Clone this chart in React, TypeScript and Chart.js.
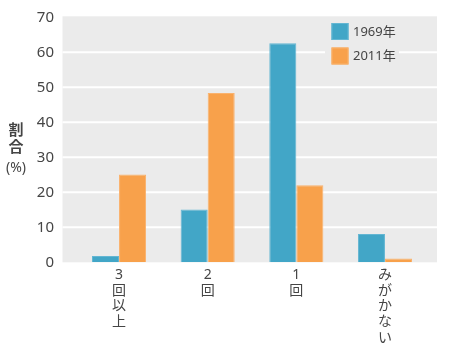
import React, { useEffect, useRef } from "react";
import { Chart, registerables } from "chart.js";

Chart.register(...registerables);

const categories: string[][] = [["3", "回", "以", "上"], ["2", "回"], ["1", "回"], ["み", "が", "か", "な", "い"]];
const series1969: number[] = [1.8, 15.1, 62.6, 8.1];
const series2011: number[] = [25.1, 48.4, 22.0, 1.1];
const seriesNames: string[] = ["1969年", "2011年"];
const yTicks: number[] = [0, 10, 20, 30, 40, 50, 60, 70];
const yTitle: string[] = ["割", "合", "(%)"];

const FONT = '"Noto Sans", "Noto Sans CJK JP", sans-serif';
const BLUE = "#42a6c7";
const BLUE_B = "#63b6d3";
const ORANGE = "#f8a14b";
const ORANGE_B = "#fab26d";
const GRAY = "#ebebeb";
const TEXT = "#454545";

const bgPlugin = {
  id: "bgPlugin",
  beforeDatasetsDraw(chart: any) {
    const { ctx, scales } = chart;
    const y = scales.y;
    const left = 62.5;
    const right = 437;
    const top = y.getPixelForValue(70) - 1;
    const bottom = y.getPixelForValue(0);
    ctx.save();
    ctx.fillStyle = GRAY;
    ctx.fillRect(left, top, right - left, bottom - top);
    ctx.strokeStyle = "#ffffff";
    ctx.lineWidth = 2;
    for (const v of yTicks) {
      if (v === 0 || v === 70) continue;
      const py = y.getPixelForValue(v);
      ctx.beginPath();
      ctx.moveTo(left, py);
      ctx.lineTo(right, py);
      ctx.stroke();
    }
    // y tick labels
    ctx.fillStyle = TEXT;
    ctx.font = `15px ${FONT}`;
    ctx.textAlign = "right";
    ctx.textBaseline = "middle";
    for (const v of yTicks) {
      ctx.fillText(String(v), 54, y.getPixelForValue(v));
    }
    ctx.restore();
  },
  afterDatasetsDraw(chart: any) {
    const { ctx } = chart;
    ctx.save();
    // legend
    ctx.fillStyle = GRAY;
    ctx.fillRect(325, 19, 74, 50);
    const items = [
      { name: seriesNames[0], fill: BLUE, border: BLUE_B, y: 23 },
      { name: seriesNames[1], fill: ORANGE, border: ORANGE_B, y: 47.5 },
    ];
    for (const it of items) {
      ctx.fillStyle = it.fill;
      ctx.fillRect(331.5, it.y, 17, 17);
      ctx.strokeStyle = it.border;
      ctx.lineWidth = 1;
      ctx.strokeRect(332, it.y + 0.5, 16, 16);
      ctx.fillStyle = TEXT;
      ctx.font = `13px ${FONT}`;
      ctx.textAlign = "left";
      ctx.textBaseline = "middle";
      ctx.fillText(it.name, 353, it.y + 9);
    }
    // y title
    ctx.fillStyle = TEXT;
    ctx.textAlign = "center";
    ctx.textBaseline = "middle";
    ctx.font = `bold 15px ${FONT}`;
    ctx.fillText(yTitle[0], 16, 131);
    ctx.fillText(yTitle[1], 16, 148);
    ctx.font = `14px ${FONT}`;
    ctx.fillText(yTitle[2], 16, 168);
    ctx.restore();
  },
};

export default function App() {
  const ref = useRef<HTMLCanvasElement | null>(null);
  useEffect(() => {
    if (!ref.current) return;
    const chart = new Chart(ref.current, {
      type: "bar",
      data: {
        labels: categories as any,
        datasets: [
          { label: seriesNames[0], data: series1969, backgroundColor: BLUE, borderColor: BLUE_B, borderWidth: 1 },
          { label: seriesNames[1], data: series2011, backgroundColor: ORANGE, borderColor: ORANGE_B, borderWidth: 1 },
        ],
      },
      options: {
        animation: false,
        responsive: false,
        maintainAspectRatio: false,
        layout: { padding: { left: 0, right: 20.7, top: 17.3, bottom: 0 } },
        plugins: { legend: { display: false }, tooltip: { enabled: false }, title: { display: false } },
        scales: {
          x: {
            offset: true,
            grid: { display: false, drawTicks: false },
            border: { display: false },
            ticks: {
              color: TEXT,
              font: { family: FONT, size: 14, lineHeight: 1.12 },
              padding: 5,
              maxRotation: 0,
              autoSkip: false,
            },
            afterFit(scale: any) {
              scale.height = 89.7;
            },
          },
          y: {
            min: 0,
            max: 70,
            grid: { display: false, drawTicks: false },
            border: { display: false },
            ticks: {
              stepSize: 10,
              display: false,
              padding: 0,
            },
            afterFit(scale: any) {
              scale.width = 74.7;
            },
          },
        },
        datasets: { bar: { categoryPercentage: 0.61, barPercentage: 1.0 } } as any,
      },
      plugins: [bgPlugin],
    });
    return () => chart.destroy();
  }, []);
  return (
    <div style={{ position: "absolute", left: 0, top: 0, width: 450, height: 352, background: "#fff" }}>
      <canvas ref={ref} width={450} height={352} style={{ display: "block", width: 450, height: 352 }} />
    </div>
  );
}
